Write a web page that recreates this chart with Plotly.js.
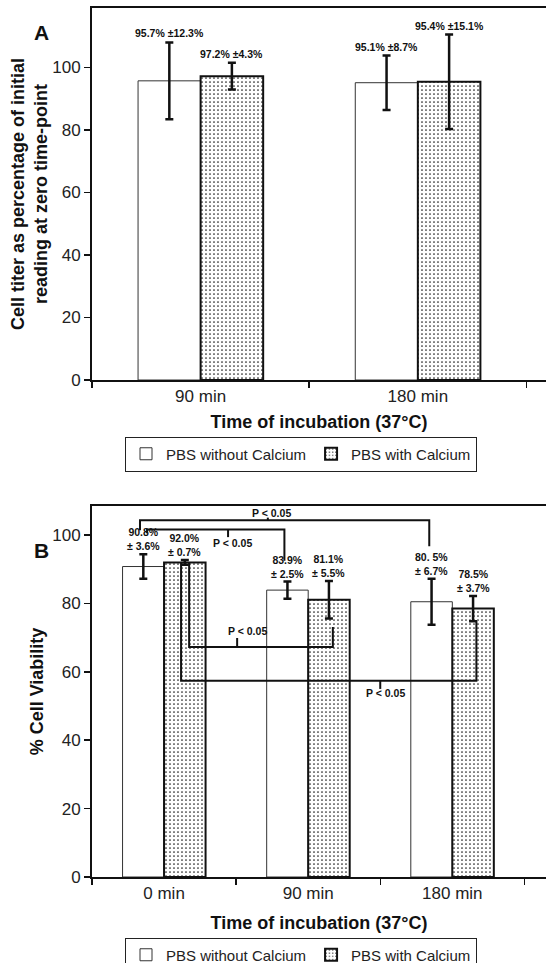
<!DOCTYPE html>
<html><head><meta charset="utf-8">
<script src="https://cdn.plot.ly/plotly-3.0.1.min.js"></script>
<style>html,body{margin:0;padding:0;background:#fff}#chart{width:546px;height:963px}</style>
</head><body><div id="chart"></div>
<script>
// ---- Data: panel A ----
const categoriesA = ['90 min', '180 min'];
const withoutCalciumA = [95.7, 95.1];
const withoutCalciumErrA = [12.3, 8.7];
const withCalciumA = [97.2, 95.4];
const withCalciumErrA = [4.3, 15.1];
const labelsWithoutA = ['95.7% ±12.3%', '95.1% ±8.7%'];
const labelsWithA = ['97.2% ±4.3%', '95.4% ±15.1%'];

// ---- Data: panel B ----
const categoriesB = ['0 min', '90 min', '180 min'];
const withoutCalciumB = [90.8, 83.9, 80.5];
const withoutCalciumErrB = [3.6, 2.5, 6.7];
const withCalciumB = [92.0, 81.1, 78.5];
const withCalciumErrB = [0.7, 5.5, 3.7];
const labelsWithoutB = ['90.8%<br>± 3.6%', '83.9%<br>± 2.5%', '80. 5%<br>± 6.7%'];
const labelsWithB = ['92.0%<br>± 0.7%', '81.1%<br>± 5.5%', '78.5%<br>± 3.7%'];

const seriesNames = ['PBS without Calcium', 'PBS with Calcium'];
const yTicks = [0, 20, 40, 60, 80, 100];
const pLabel = 'P < 0.05';

// ---- Significance brackets (decoration geometry, panel B) ----
const bracketsB = [
  {x0: -0.167, x1: 1.84,  y: 104.3, yL: 101.4, yR: 96.7, xt: 0.72,  yt: 105.1, lx: 0.742, ly: 106.5},
  {x0: -0.118, x1: 0.835, y: 101.6, yL: 100.5, yR: 92.5, xt: 0.444, yt: 99.4,  lx: 0.476, ly: 97.7},
  {x0: 0.174,  x1: 1.171, y: 67.3,  yL: 91.8,  yR: 73.1, xt: 0.507, yt: 69.9,  lx: 0.576, ly: 71.9},
  {x0: 0.118,  x1: 2.167, y: 57.4,  yL: 91.8,  yR: 74.9, xt: 1.5,   yt: 55.0,  lx: 1.535, ly: 53.8}
];

const FONT = 'Liberation Sans, Arial, Helvetica, sans-serif';
const W = 546, H = 963;
const px = v => v / W, py = v => 1 - v / H;
const BARGAP = 0.424;
const OFF = (1 - BARGAP) / 4;

const whiteMarker = {color: 'white', line: {color: '#333', width: 1}};
const dotMarker = {color: 'white', line: {color: '#111', width: 2},
  pattern: {shape: '.', fgcolor: '#222', bgcolor: 'white', size: 4, solidity: 0.15, fillmode: 'replace'}};
const errStyle = (arr) => ({type: 'data', array: arr, visible: true, color: '#111', thickness: 2.5, width: 4});

const traces = [
  {type: 'bar', name: seriesNames[0], x: categoriesA, y: withoutCalciumA, error_y: errStyle(withoutCalciumErrA),
   marker: whiteMarker, xaxis: 'x', yaxis: 'y', legend: 'legend', hoverinfo: 'skip'},
  {type: 'bar', name: seriesNames[1], x: categoriesA, y: withCalciumA, error_y: errStyle(withCalciumErrA),
   marker: dotMarker, xaxis: 'x', yaxis: 'y', legend: 'legend', hoverinfo: 'skip'},
  {type: 'bar', name: seriesNames[0], x: categoriesB, y: withoutCalciumB, error_y: errStyle(withoutCalciumErrB),
   marker: whiteMarker, xaxis: 'x2', yaxis: 'y2', legend: 'legend2', hoverinfo: 'skip'},
  {type: 'bar', name: seriesNames[1], x: categoriesB, y: withCalciumB, error_y: errStyle(withCalciumErrB),
   marker: dotMarker, xaxis: 'x2', yaxis: 'y2', legend: 'legend2', hoverinfo: 'skip'}
];

const annotations = [];
const labelFont = {family: FONT, size: 10.5, color: '#111', weight: 'bold'};
function addLabels(vals, errs, labels, sign, xref, yref, yshift) {
  vals.forEach((v, i) => {
    annotations.push({xref: xref, yref: yref, x: i + sign * OFF, y: v + errs[i], text: labels[i],
      showarrow: false, xanchor: 'center', yanchor: 'bottom', yshift: yshift, font: labelFont, borderpad: 0});
  });
}
addLabels(withoutCalciumA, withoutCalciumErrA, labelsWithoutA, -1, 'x', 'y', 2);
addLabels(withCalciumA, withCalciumErrA, labelsWithA, 1, 'x', 'y', 2);
addLabels(withoutCalciumB, withoutCalciumErrB, labelsWithoutB, -1, 'x2', 'y2', 1);
addLabels(withCalciumB, withCalciumErrB, labelsWithB, 1, 'x2', 'y2', 1);

const shapes = [];
bracketsB.forEach(b => {
  shapes.push({type: 'path', xref: 'x2', yref: 'y2',
    path: `M ${b.x0},${b.yL} L ${b.x0},${b.y} L ${b.x1},${b.y} L ${b.x1},${b.yR}`,
    line: {color: '#111', width: 2}});
  shapes.push({type: 'line', xref: 'x2', yref: 'y2', x0: b.xt, x1: b.xt, y0: b.y, y1: b.yt,
    line: {color: '#111', width: 2}});
  annotations.push({xref: 'x2', yref: 'y2', x: b.lx, y: b.ly, text: pLabel, showarrow: false,
    xanchor: 'center', yanchor: 'middle', font: labelFont});
});

annotations.push({xref: 'paper', yref: 'paper', x: px(41), y: py(32), text: 'A', showarrow: false,
  xanchor: 'center', yanchor: 'middle', font: {family: FONT, size: 21, weight: 'bold', color: '#111'}});
annotations.push({xref: 'paper', yref: 'paper', x: px(41), y: py(550), text: 'B', showarrow: false,
  xanchor: 'center', yanchor: 'middle', font: {family: FONT, size: 21, weight: 'bold', color: '#111'}});

const titleFont = {family: FONT, size: 18, weight: 'bold', color: '#111'};
function xAxis(anchor, range, standoff) {
  return {domain: [px(92), 1], anchor: anchor, type: 'category', range: range,
    showline: true, linecolor: '#111', linewidth: 2, mirror: true,
    ticks: 'outside', tickson: 'boundaries', ticklen: 6, tickwidth: 1.5, tickcolor: '#111',
    tickfont: {family: FONT, size: 17, color: '#222'}, showgrid: false, zeroline: false,
    title: {text: 'Time of incubation (37°C)', font: titleFont, standoff: standoff}};
}
function yAxis(domain, anchor, range, title, standoff) {
  return {domain: domain, anchor: anchor, range: range, tickvals: yTicks,
    showline: true, linecolor: '#111', linewidth: 2, ticks: 'outside', ticklen: 6, tickwidth: 1.5, tickcolor: '#111',
    tickfont: {family: FONT, size: 17, color: '#222'}, showgrid: false, zeroline: false,
    title: {text: title, font: titleFont, standoff: standoff}};
}

const legendBase = {xanchor: 'left', orientation: 'h', bordercolor: '#222', borderwidth: 1, bgcolor: 'white',
  font: {family: FONT, size: 15, color: '#222'}, traceorder: 'normal'};

const layout = {
  width: W, height: H, margin: {l: 0, r: 0, t: 0, b: 0, autoexpand: false},
  paper_bgcolor: 'white', plot_bgcolor: 'white',
  font: {family: FONT, color: '#222'},
  barmode: 'group', bargap: BARGAP, bargroupgap: 0,
  xaxis: xAxis('y', [-0.5, 1.59], 10),
  yaxis: yAxis([py(380), py(8)], 'x', [0, 119], 'Cell titer as percentage of initial<br>reading at zero time-point', 0),
  xaxis2: xAxis('y2', [-0.5, 2.65], 14),
  yaxis2: yAxis([py(877), py(506)], 'x2', [0, 108.5], '% Cell Viability', 4),
  legend: Object.assign({x: px(125), y: py(454), yanchor: 'middle'}, legendBase),
  legend2: Object.assign({x: px(125), y: py(955), yanchor: 'middle'}, legendBase),
  showlegend: true,
  annotations: annotations,
  shapes: shapes
};

Plotly.newPlot('chart', traces, layout, {displayModeBar: false, staticPlot: true});
</script>
</body></html>
